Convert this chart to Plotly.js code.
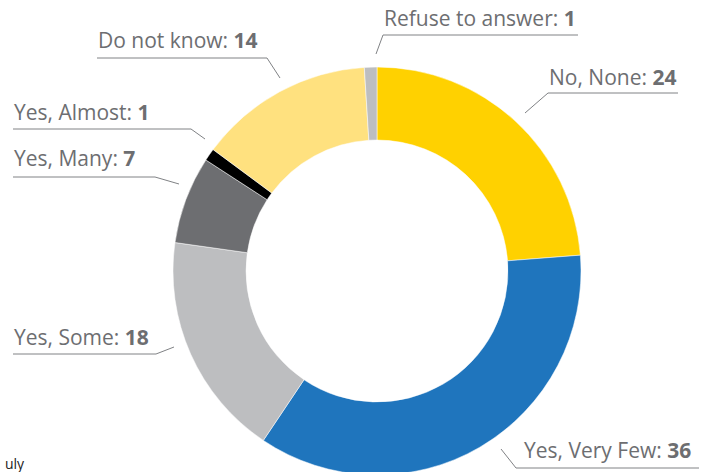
<!DOCTYPE html>
<html>
<head>
<meta charset="utf-8">
<script src="https://cdn.plot.ly/plotly-3.0.1.min.js"></script>
<style>
  html, body { margin: 0; padding: 0; background: #fff; overflow: hidden; }
  #chart { width: 701px; height: 476px; }
</style>
</head>
<body>
<div id="chart"></div>
<script>
// ---- data ----
const categories = ["No, None", "Yes, Very Few", "Yes, Some", "Yes, Many", "Yes, Almost", "Do not know", "Refuse to answer"];
const values = [24, 36, 18, 7, 1, 14, 1];
const colors = ["#FFD100", "#1F75BD", "#BDBEC0", "#6D6E71", "#000000", "#FFE17F", "#BDBEC0"];

// ---- layout helpers (pixel -> paper) ----
const W = 701, H = 476;
const px = x => x / W;
const py = y => 1 - y / H;

const cx = 377, cy = 271, R = 204;

// label placement: text left/center, underline, leader
const labelLayout = [
  {tx: 547, ty: 77, ul: [548, 678, 93], lead: [[548, 93], [525, 113]]},        // No, None
  {tx: 522, ty: 450, ul: [516, 699, 468], lead: [[516, 468], [501, 449]]},     // Very Few
  {tx: 12, ty: 337, ul: [13, 156, 354], lead: [[156, 354], [174, 347]]},       // Some
  {tx: 12, ty: 158, ul: [13, 155, 177], lead: [[155, 177], [179, 184]]},       // Many
  {tx: 12, ty: 112, ul: [13, 191, 129], lead: [[191, 129], [205, 139]]},       // Almost
  {tx: 96, ty: 40, ul: [97, 267, 58], lead: [[267, 58], [280, 78]]},           // Do not know
  {tx: 382, ty: 18, ul: [383, 578, 35], lead: [[383, 35], [376, 54]]}          // Refuse
];

const textColor = "#6D6E71";
const lineColor = "#808285";

const annotations = categories.map((c, i) => ({
  xref: "paper", yref: "paper",
  x: px(labelLayout[i].tx), y: py(labelLayout[i].ty),
  xanchor: "left", yanchor: "middle",
  showarrow: false,
  text: c + ": <b>" + values[i] + "</b>",
  font: {family: "'Open Sans', sans-serif", size: 21, color: textColor}
}));
annotations.push({
  xref: "paper", yref: "paper", x: px(3), y: py(463), xanchor: "left", yanchor: "middle",
  showarrow: false, text: "uly",
  font: {family: "'Open Sans', sans-serif", size: 14, color: "#222"}
});

const shapes = [];
labelLayout.forEach(l => {
  shapes.push({type: "line", xref: "paper", yref: "paper",
    x0: px(l.ul[0]), x1: px(l.ul[1]), y0: py(l.ul[2]), y1: py(l.ul[2]),
    line: {color: lineColor, width: 1}});
  shapes.push({type: "line", xref: "paper", yref: "paper",
    x0: px(l.lead[0][0]), y0: py(l.lead[0][1]), x1: px(l.lead[1][0]), y1: py(l.lead[1][1]),
    line: {color: lineColor, width: 1}});
});

const trace = {
  type: "pie",
  labels: categories,
  values: values,
  sort: false,
  direction: "clockwise",
  rotation: 0,
  hole: 0.642,
  marker: {colors: colors, line: {color: "#ffffff", width: 0.5}},
  textinfo: "none",
  hoverinfo: "label+value",
  showlegend: false,
  domain: {x: [px(cx - R), px(cx + R)], y: [py(cy + R), py(cy - R)]}
};

const layout = {
  width: W, height: H,
  margin: {l: 0, r: 0, t: 0, b: 0},
  paper_bgcolor: "#ffffff",
  plot_bgcolor: "#ffffff",
  showlegend: false,
  annotations: annotations,
  shapes: shapes
};

Plotly.newPlot("chart", [trace], layout, {displayModeBar: false, staticPlot: true});
</script>
</body>
</html>
